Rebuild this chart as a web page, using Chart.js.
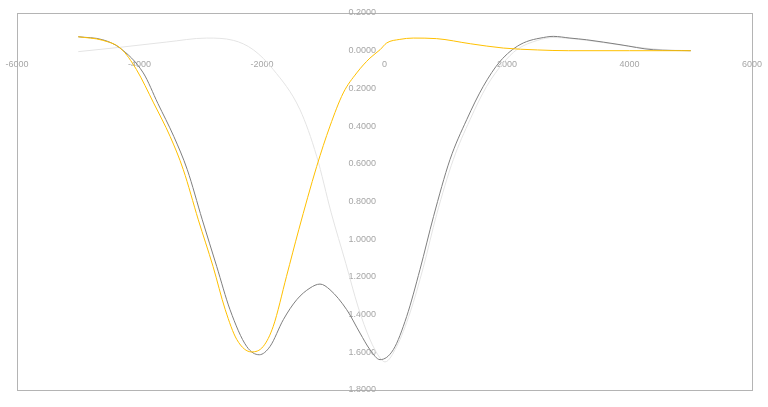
<!DOCTYPE html>
<html>
<head>
<meta charset="utf-8">
<script src="https://cdn.jsdelivr.net/npm/chart.js@4.4.1/dist/chart.umd.min.js"></script>
<style>
  html, body { margin: 0; padding: 0; background: #ffffff; }
  #wrap { width: 768px; height: 407px; }
</style>
</head>
<body>
<div id="wrap"><canvas id="curvas" width="768" height="407"></canvas></div>
<script>
// tick labels
const xTicks = [-6000, -4000, -2000, 0, 2000, 4000, 6000];
const yTicks = [-0.2, 0, 0.2, 0.4, 0.6, 0.8, 1.0, 1.2, 1.4, 1.6, 1.8];

// dark grey series
const darkX = [-5000, -4600, -4318, -3938, -3700, -3440, -3220, -2975, -2740, -2522, -2250, -2044, -1869, -1652, -1433, -1216, -1053, -890, -617, -400, -237, -73, 144, 362, 580, 800, 1069, 1342, 1613, 1886, 2212, 2648, 2756, 3028, 3301, 3845, 4388, 5000];
const darkY = [-0.074, -0.058, -0.014, 0.118, 0.28, 0.455, 0.631, 0.897, 1.144, 1.374, 1.569, 1.613, 1.569, 1.427, 1.321, 1.259, 1.238, 1.268, 1.374, 1.498, 1.586, 1.639, 1.586, 1.41, 1.16, 0.88, 0.578, 0.366, 0.189, 0.057, -0.032, -0.073, -0.076, -0.067, -0.058, -0.032, -0.005, 0];

// orange series
const orangeX = [-5000, -4600, -4300, -4050, -3770, -3500, -3285, -3040, -2800, -2600, -2410, -2170, -1980, -1816, -1600, -1400, -1107, -890, -673, -454, -237, -73, 36, 250, 470, 850, 1400, 1940, 2500, 3000, 4000, 5000];
const orangeY = [-0.074, -0.055, -0.01, 0.10, 0.277, 0.455, 0.631, 0.897, 1.144, 1.374, 1.533, 1.598, 1.569, 1.462, 1.197, 0.95, 0.614, 0.40, 0.224, 0.118, 0.039, -0.005, -0.041, -0.06, -0.067, -0.064, -0.037, -0.014, -0.004, 0, 0, 0];

// light grey series
const lightX = [-5000, -4318, -3556, -2903, -2469, -2142, -1816, -1380, -1107, -870, -630, -430, -240, -73, 8, 199, 416, 633, 850, 1123, 1396, 1668, 1940, 2158, 2500, 2750, 3300, 3900, 4500, 5000];
const lightY = [0.005, -0.018, -0.046, -0.067, -0.055, -0.005, 0.10, 0.313, 0.56, 0.86, 1.13, 1.36, 1.53, 1.63, 1.651, 1.569, 1.391, 1.15, 0.87, 0.578, 0.366, 0.189, 0.065, -0.005, -0.055, -0.07, -0.055, -0.028, -0.006, 0];

function toPoints(xs, ys) {
  return xs.map(function(x, i) { return { x: x, y: ys[i] }; });
}

// marco del área de trazado
const plotBorder = {
  id: 'plotBorder',
  beforeDraw: function(chart) {
    const a = chart.chartArea;
    const ctx = chart.ctx;
    ctx.save();
    ctx.strokeStyle = '#b4b4b4';
    ctx.lineWidth = 1;
    ctx.strokeRect(a.left + 0.5, a.top + 0.5, a.right - a.left, a.bottom - a.top);
    ctx.restore();
  }
};

const lineStyle = { showLine: true, pointRadius: 0, borderWidth: 1, cubicInterpolationMode: 'monotone', fill: false };

new Chart(document.getElementById('curvas').getContext('2d'), {
  type: 'scatter',
  data: {
    datasets: [
      Object.assign({ data: toPoints(orangeX, orangeY), borderColor: '#ffc000', order: 1 }, lineStyle),
      Object.assign({ data: toPoints(darkX, darkY), borderColor: '#7f7f7f', order: 2 }, lineStyle),
      Object.assign({ data: toPoints(lightX, lightY), borderColor: '#e4e4e4', order: 3 }, lineStyle)
    ]
  },
  options: {
    responsive: false,
    animation: false,
    layout: { padding: { left: 17, top: 13, right: 16, bottom: 17 } },
    plugins: { legend: { display: false }, tooltip: { enabled: false } },
    scales: {
      x: {
        type: 'linear',
        position: { y: 0 },
        min: -6000, max: 6000,
        afterBuildTicks: function(scale) { scale.ticks = xTicks.map(function(v) { return { value: v }; }); },
        grid: { display: false },
        border: { display: false },
        ticks: {
          color: '#a6a6a6',
          padding: 0,
          maxRotation: 0,
          font: { family: 'Liberation Sans', size: 9 },
          callback: function(v) { return String(v); }
        }
      },
      y: {
        type: 'linear',
        // labels sit a little left of x = 0
        position: { x: -140 },
        reverse: true,
        min: -0.2, max: 1.8,
        afterBuildTicks: function(scale) { scale.ticks = yTicks.map(function(v) { return { value: v }; }); },
        grid: { display: false },
        border: { display: false },
        ticks: {
          color: '#a6a6a6',
          font: { family: 'Liberation Sans', size: 9 },
          callback: function(v) { return Math.abs(v).toFixed(4); }
        }
      }
    }
  },
  plugins: [plotBorder]
});
</script>
</body>
</html>
